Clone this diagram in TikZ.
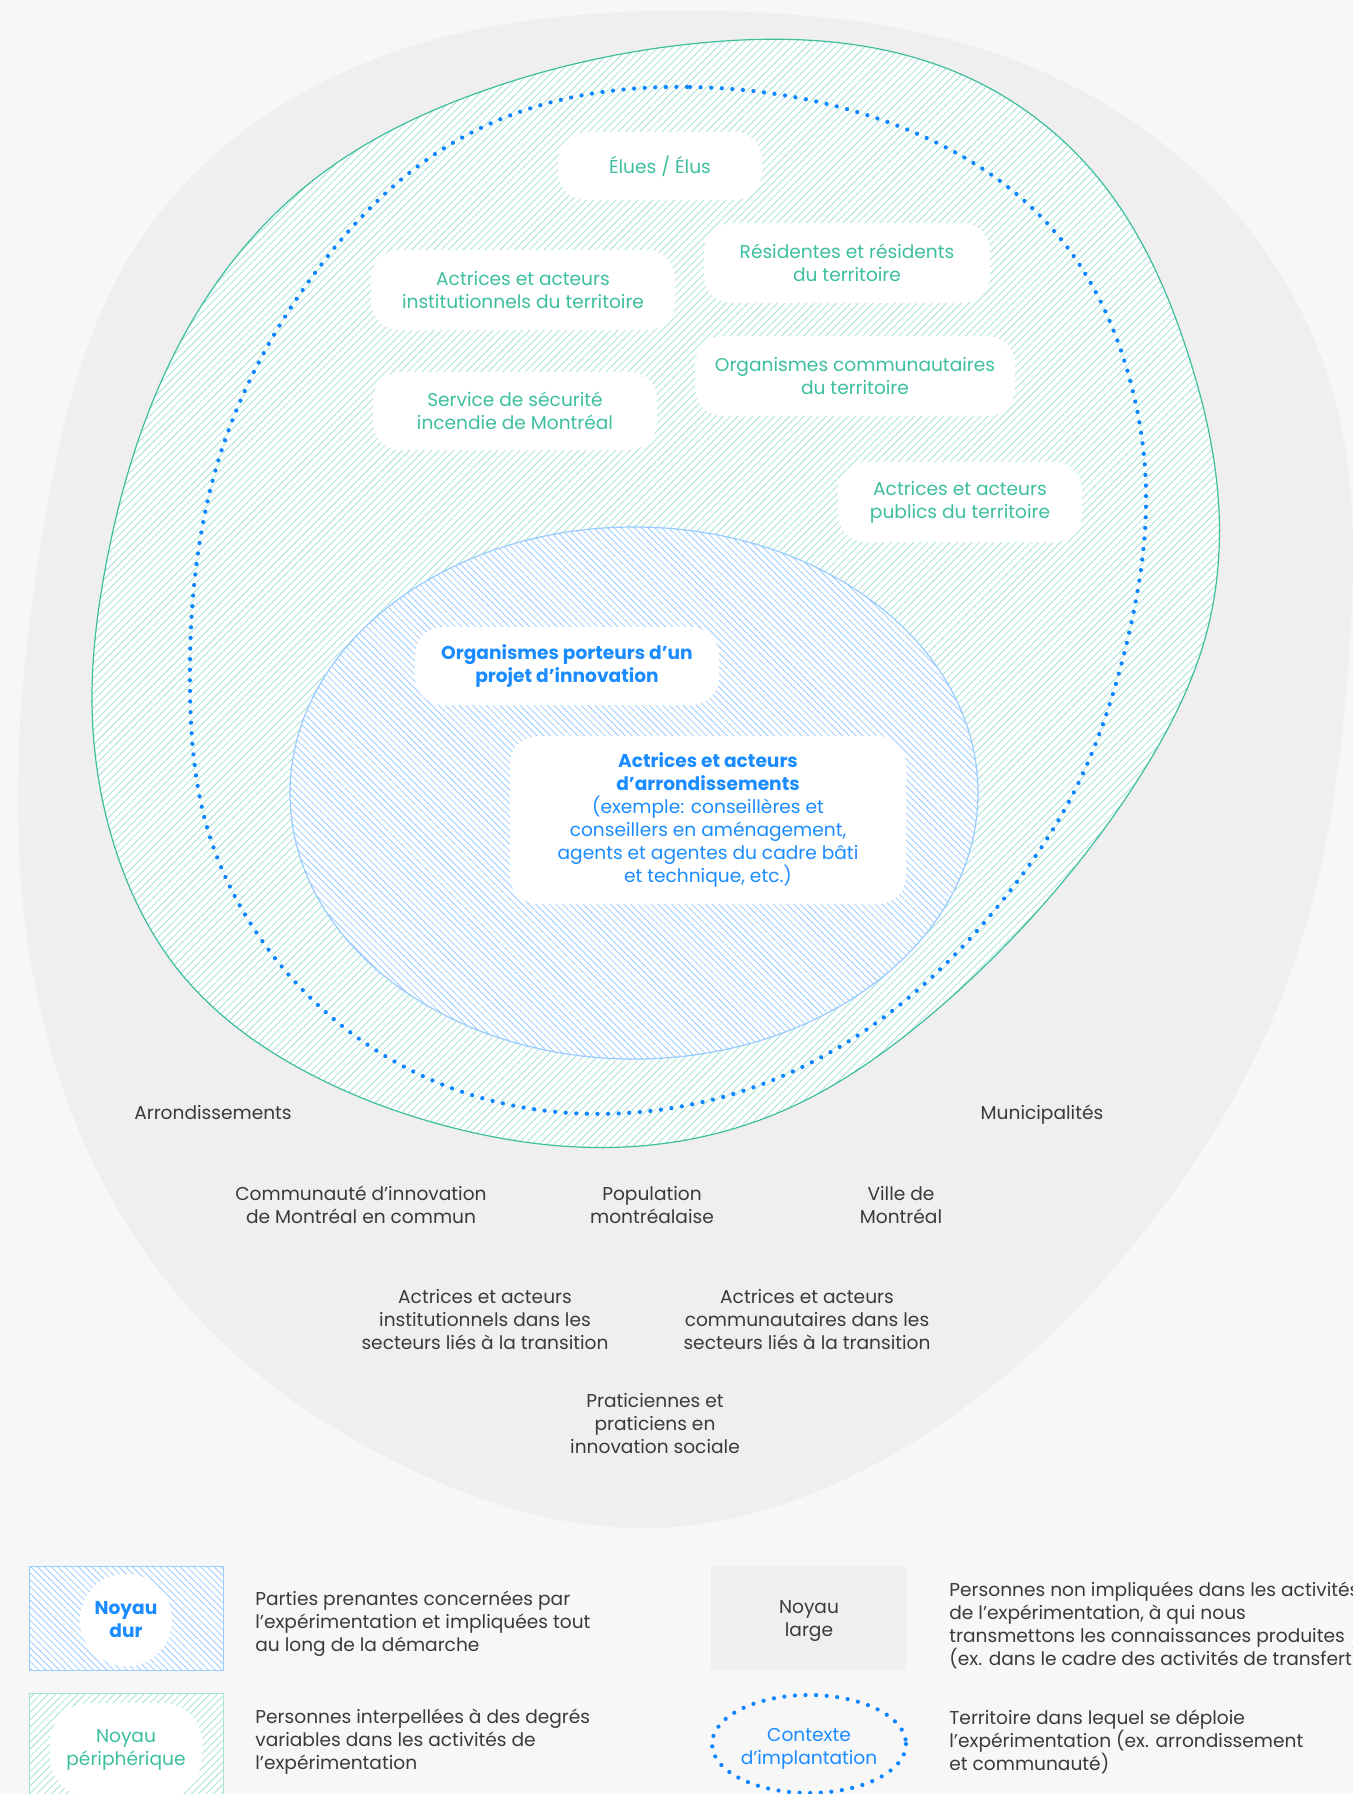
\documentclass[tikz,border=0pt]{standalone}
\usepackage{fontspec}
\setmainfont{Poppins}
\usepackage{xcolor}
\usepackage{tikz}
\usetikzlibrary{patterns.meta,positioning,hobby}

\definecolor{fond}{HTML}{F7F7F7}
\definecolor{gris}{HTML}{EFEFEF}
\definecolor{vert}{HTML}{3DBF9F}
\definecolor{vertclair}{HTML}{A6E2D3}
\definecolor{bleu}{HTML}{1A8CFF}
\definecolor{bleuclair}{HTML}{9ACBFF}
\definecolor{pointbleu}{HTML}{0A84FF}
\definecolor{texte}{HTML}{3A3A3A}

\begin{document}
\begin{tikzpicture}[x=0.5pt,y=-0.5pt,
  txt/.style={font=\fontsize{9.3}{11.5}\selectfont, align=center},
  bulle/.style={txt, fill=white, rounded corners=14pt, inner sep=0pt},
  periph/.style={bulle, text=vert},
  dur/.style={bulle, text=bleu},
  large/.style={txt, text=texte},
  legende/.style={font=\fontsize{9.3}{11.5}\selectfont, align=left, anchor=west, inner sep=0pt, text=texte},
  hachvert/.style={pattern={Lines[angle=45,distance=2.6pt,line width=0.4pt]}, pattern color=vertclair},
  hachbleu/.style={pattern={Lines[angle=-45,distance=2.4pt,line width=0.4pt]}, pattern color=bleuclair},
  pointille/.style={draw=pointbleu, line width=2.1pt, line cap=round, dash pattern=on 0pt off 5.3pt}]

\useasboundingbox (0,0) rectangle (1353,1794);
\fill[fond] (0,0) rectangle (1353,1794);

% noyau large
\fill[gris, use Hobby shortcut, closed=true] (709,11) .. (1000,55) .. (1233,210) .. (1340,420)
  .. (1350,640) .. (1290,975) .. (1150,1224) .. (900,1450) .. (653,1528) .. (402,1465)
  .. (200,1320) .. (60,1080) .. (18,820) .. (45,520) .. (140,240) .. (400,50);

% noyau peripherique
\draw[vert, line width=0.6pt, hachvert, preaction={fill=white}, use Hobby shortcut, closed=true]
  (700,43) .. (965,76) .. (1099,179) .. (1189,357) .. (1218,495) .. (1206,635) .. (1144,770)
  .. (1055,891) .. (921,1023) .. (787,1109) .. (640,1146) .. (446,1126) .. (312,1075)
  .. (179,971) .. (116,851) .. (92,700) .. (105,570) .. (135,450) .. (205,300) .. (320,175) .. (480,92);

% noyau dur
\draw[bleuclair, line width=0.6pt, hachbleu, preaction={fill=white}] (634,793) ellipse [x radius=344, y radius=266];

% contexte d'implantation
\draw[pointille, use Hobby shortcut, closed=true] (690,87) .. (876,118) .. (1055,232) .. (1130,380)
  .. (1146,490) .. (1125,650) .. (1075,790) .. (1010,891) .. (876,1023) .. (760,1085) .. (640,1112)
  .. (446,1086) .. (268,949) .. (205,820) .. (190,690) .. (223,446) .. (312,277) .. (446,147) .. (560,100);

% parties prenantes
\node[periph, minimum width=102pt, minimum height=34pt] (elus) at (660,166) {Élues / Élus};
\node[periph, minimum width=152pt, minimum height=40pt] (instit) at (523,290) {Actrices et acteurs\\institutionnels du territoire};
\node[periph, minimum width=143pt, minimum height=40pt] (resid) at (847,263) {Résidentes et résidents\\du territoire};
\node[periph, minimum width=160pt, minimum height=40pt] (orgcom) at (855,376) {Organismes communautaires\\du territoire};
\node[periph, minimum width=142pt, minimum height=39pt] (incendie) at (515,411) {Service de sécurité\\incendie de Montréal};
\node[periph, minimum width=122pt, minimum height=40pt] (publics) at (960,502) {Actrices et acteurs\\publics du territoire};
\node[dur, minimum width=152pt, minimum height=39pt, font=\fontsize{9.3}{11.5}\selectfont\bfseries] (porteurs) at (567,666) {Organismes porteurs d’un\\projet d’innovation};
\node[dur, minimum width=198pt, minimum height=84pt] (arrond) at (708,820) {\textbf{Actrices et acteurs}\\\textbf{d’arrondissements}\\(exemple: conseillères et\\conseillers en aménagement,\\agents et agentes du cadre bâti\\et technique, etc.)};

\node[large] (arr) at (213,1112) {Arrondissements};
\node[large] (muni) at (1042,1115) {Municipalités};
\node[large] (cimtl) at (361,1205) {Communauté d’innovation\\de Montréal en commun};
\node[large] (popu) at (652,1205) {Population\\montréalaise};
\node[large] (ville) at (901,1205) {Ville de\\Montréal};
\node[large] (instsect) at (485,1319) {Actrices et acteurs\\institutionnels dans les\\secteurs liés à la transition};
\node[large] (comsect) at (807,1319) {Actrices et acteurs\\communautaires dans les\\secteurs liés à la transition};
\node[large] (prat) at (655,1423) {Praticiennes et\\praticiens en\\innovation sociale};

% legende
\draw[bleuclair, line width=0.5pt, hachbleu, preaction={fill=white}] (29,1566) rectangle (223,1670);
\node[dur, circle, minimum size=46pt, font=\fontsize{9.3}{11.5}\selectfont\bfseries] (ldur) at (126,1620) {Noyau\\dur};
\node[legende] (ddur) at (255,1624) {Parties prenantes concernées par\\l'expérimentation et impliquées tout\\au long de la démarche};

\draw[vertclair, line width=0.5pt, hachvert, preaction={fill=white}] (29,1693) rectangle (223,1810);
\node[periph, rounded corners=20pt, minimum width=76pt, minimum height=47pt] (lperiph) at (126,1750) {Noyau\\périphérique};
\node[legende] (dperiph) at (255,1742) {Personnes interpellées à des degrés\\variables dans les activités de\\l'expérimentation};

\fill[gris] (711,1566) rectangle (906,1670);
\node[large] (llarge) at (809,1621) {Noyau\\large};
\node[legende] (dlarge) at (949,1625) {Personnes non impliquées dans les activités\\de l'expérimentation, à qui nous\\transmettons les connaissances produites\\(ex. dans le cadre des activités de transfert)};

\draw[pointille] (809,1744) ellipse [x radius=97, y radius=49];
\node[txt, text=bleu] (lctx) at (809,1749) {Contexte\\d’implantation};
\node[legende] (dctx) at (949,1742) {Territoire dans lequel se déploie\\l’expérimentation (ex. arrondissement\\et communauté)};
\end{tikzpicture}
\end{document}
